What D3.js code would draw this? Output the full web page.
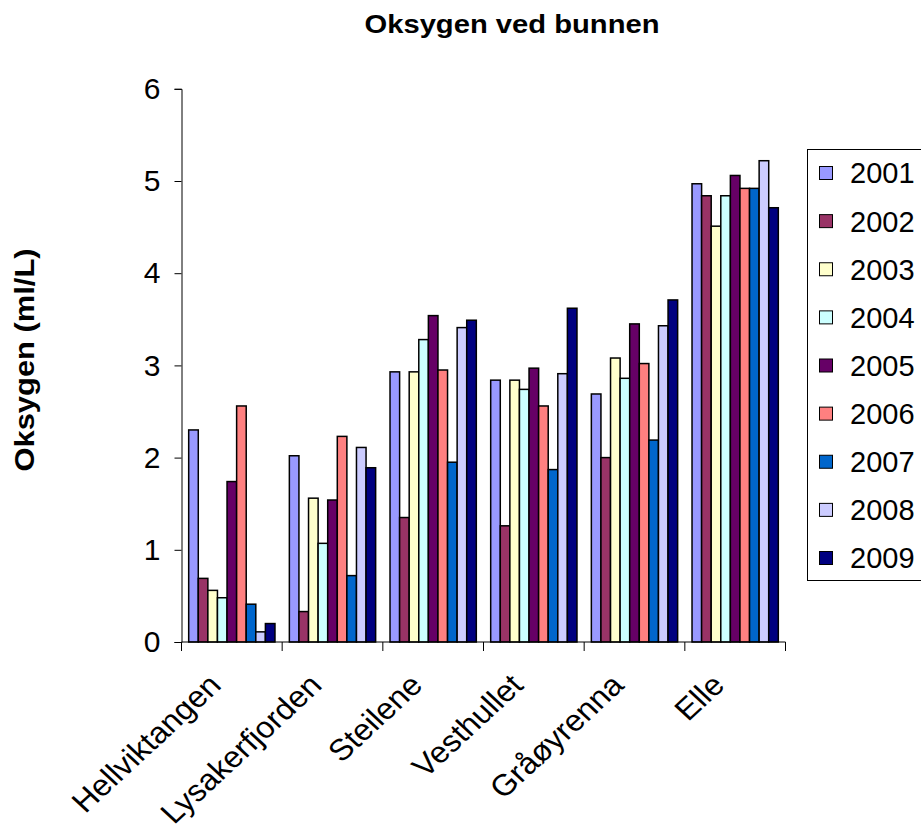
<!DOCTYPE html>
<html>
<head>
<meta charset="utf-8">
<script src="https://cdn.jsdelivr.net/npm/d3@7"></script>
<style>
  html, body { margin: 0; padding: 0; background: #fff; }
  svg { display: block; font-family: Arial, "Liberation Sans", sans-serif; }
</style>
</head>
<body>
<svg id="chart" width="921" height="835"></svg>
<script>
const categories = ["Hellviktangen", "Lysakerfjorden", "Steilene", "Vesthullet", "Gråøyrenna", "Elle"];
const years = ["2001", "2002", "2003", "2004", "2005", "2006", "2007", "2008", "2009"];
const colors = ["#9999FF", "#993366", "#FFFFCC", "#CCFFFF", "#660066", "#FF8080", "#0066CC", "#CCCCFF", "#000080"];
const v2001 = [2.30, 2.02, 2.93, 2.84, 2.69, 4.97];
const v2002 = [0.69, 0.33, 1.35, 1.26, 2.00, 4.84];
const v2003 = [0.56, 1.56, 2.93, 2.84, 3.08, 4.51];
const v2004 = [0.48, 1.07, 3.28, 2.74, 2.86, 4.84];
const v2005 = [1.74, 1.54, 3.54, 2.97, 3.45, 5.06];
const v2006 = [2.56, 2.23, 2.95, 2.56, 3.02, 4.92];
const v2007 = [0.41, 0.72, 1.95, 1.87, 2.19, 4.92];
const v2008 = [0.11, 2.11, 3.41, 2.91, 3.43, 5.22];
const v2009 = [0.20, 1.89, 3.49, 3.62, 3.71, 4.71];
const seriesValues = [v2001, v2002, v2003, v2004, v2005, v2006, v2007, v2008, v2009];
const yTicks = [0, 1, 2, 3, 4, 5, 6];

const svg = d3.select("#chart");
const pLeft = 181.5, pRight = 785.5, pTop = 88.8, pBottom = 642;

const x = d3.scaleBand().domain(categories).range([pLeft, pRight]).paddingInner(0).paddingOuter(0);
const xs = d3.scaleBand().domain(years).range([0, x.bandwidth()]).paddingInner(0).paddingOuter(0.75);
const y = d3.scaleLinear().domain([0, 6]).range([pBottom, pTop]);

// Title
svg.append("text")
  .attr("x", 512).attr("y", 33)
  .attr("text-anchor", "middle")
  .attr("font-size", 26).attr("font-weight", "bold")
  .attr("textLength", 295).attr("lengthAdjust", "spacingAndGlyphs")
  .text("Oksygen ved bunnen");

// Y axis title
svg.append("text")
  .attr("transform", "translate(34,360) rotate(-90)")
  .attr("text-anchor", "middle")
  .attr("font-size", 28).attr("font-weight", "bold")
  .attr("textLength", 223).attr("lengthAdjust", "spacingAndGlyphs")
  .text("Oksygen (ml/L)");

// Bars
const data = [];
categories.forEach((c, ci) => {
  years.forEach((yr, si) => data.push({ c, yr, si, v: seriesValues[si][ci] }));
});
svg.append("g").selectAll("rect").data(data).enter().append("rect")
  .attr("x", d => x(d.c) + xs(d.yr))
  .attr("y", d => y(d.v))
  .attr("width", xs.bandwidth())
  .attr("height", d => y(0) - y(d.v))
  .attr("fill", d => colors[d.si])
  .attr("stroke", "#000")
  .attr("stroke-width", 1.5);

// Y axis
const yAxis = d3.axisLeft(y).tickValues(yTicks).tickSize(7).tickPadding(14).tickFormat(d3.format("d"));
const gy = svg.append("g").attr("transform", `translate(${pLeft},0)`).call(yAxis);
gy.select(".domain").attr("stroke", "#000").attr("stroke-width", 1);
gy.selectAll(".tick line").attr("stroke", "#000");
gy.selectAll(".tick text").attr("font-size", 30).attr("fill", "#000")
  .attr("font-family", "Arial, 'Liberation Sans', sans-serif");

// X axis line with ticks at category boundaries
const gx = svg.append("g");
gx.append("line").attr("x1", pLeft).attr("x2", pRight).attr("y1", pBottom).attr("y2", pBottom)
  .attr("stroke", "#000").attr("stroke-width", 1);
const boundaries = categories.map(c => x(c)).concat([x(categories[categories.length - 1]) + x.bandwidth()]);
gx.selectAll("line.tk").data(boundaries).enter().append("line").attr("class", "tk")
  .attr("x1", d => d).attr("x2", d => d).attr("y1", pBottom).attr("y2", pBottom + 9)
  .attr("stroke", "#000").attr("stroke-width", 1);
gx.selectAll("text").data(categories).enter().append("text")
  .attr("transform", d => `translate(${x(d) + x.bandwidth() / 2 - 9},${pBottom + 45}) scale(1.08,1) rotate(-45)`)
  .attr("text-anchor", "end")
  .attr("font-size", 30)
  .text(d => d);

// Legend
const lg = svg.append("g");
lg.append("rect").attr("x", 807.5).attr("y", 149.5).attr("width", 130).attr("height", 431)
  .attr("fill", "#fff").attr("stroke", "#000").attr("stroke-width", 1);
const lgY = d3.scalePoint().domain(years).range([173, 558]);
const items = lg.selectAll("g.item").data(years).enter().append("g").attr("class", "item")
  .attr("transform", d => `translate(0,${lgY(d)})`);
items.append("rect").attr("x", 819.5).attr("y", -6.5).attr("width", 13).attr("height", 13)
  .attr("fill", (d, i) => colors[i]).attr("stroke", "#000").attr("stroke-width", 1);
items.append("text").attr("x", 850).attr("y", 0).attr("dy", "0.36em")
  .attr("font-size", 29).text(d => d);
</script>
</body>
</html>
